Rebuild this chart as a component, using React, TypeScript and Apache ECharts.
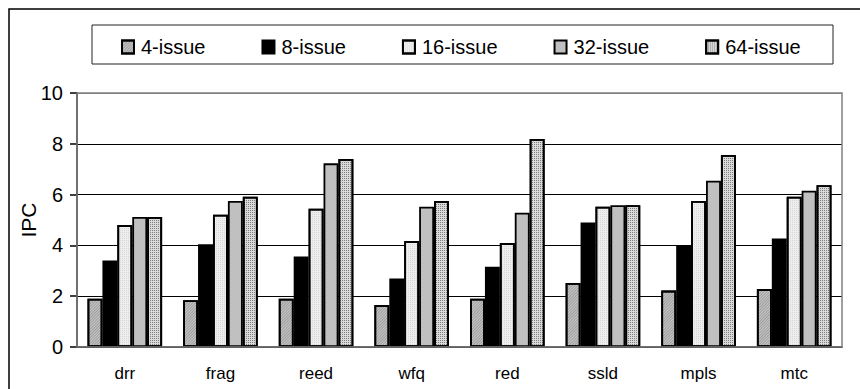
import React, { useEffect, useRef } from "react";
import * as echarts from "echarts";

const categories = ["drr", "frag", "reed", "wfq", "red", "ssld", "mpls", "mtc"];
const seriesNames = ["4-issue", "8-issue", "16-issue", "32-issue", "64-issue"];
const issue4 = [1.9, 1.84, 1.9, 1.65, 1.9, 2.52, 2.22, 2.28];
const issue8 = [3.41, 4.05, 3.56, 2.7, 3.16, 4.9, 3.98, 4.27];
const issue16 = [4.8, 5.21, 5.44, 4.17, 4.09, 5.52, 5.75, 5.92];
const issue32 = [5.12, 5.75, 7.23, 5.52, 5.29, 5.58, 6.55, 6.15];
const issue64 = [5.12, 5.92, 7.4, 5.75, 8.19, 5.58, 7.56, 6.37];
const yTicks = [0, 2, 4, 6, 8, 10];
const yAxisTitle = "IPC";

export default function App() {
  const ref = useRef<HTMLDivElement>(null);
  useEffect(() => {
    if (!ref.current) return;
    const chart = echarts.init(ref.current, null, { renderer: "svg" });
    const values = [issue4, issue8, issue16, issue32, issue64];
    const styles: any[] = [
      {
        color: "#c8c8c8",
        decal: {
          symbol: "rect",
          color: "rgba(0,0,0,0.22)",
          dashArrayX: [1, 0],
          dashArrayY: [1, 1],
          rotation: -Math.PI / 4,
        },
      },
      { color: "#000000" },
      {
        color: "#eeeeee",
        decal: {
          symbol: "rect",
          symbolSize: 1,
          color: "rgba(0,0,0,0.1)",
          dashArrayX: [1, 1],
          dashArrayY: [1, 1],
        },
      },
      { color: "#c0c0c0" },
      {
        color: "#dadada",
        decal: {
          symbol: "rect",
          symbolSize: 1,
          color: "rgba(0,0,0,0.42)",
          dashArrayX: [1, 1],
          dashArrayY: [1, 1],
        },
      },
    ];
    chart.setOption({
      animation: false,
      textStyle: { fontFamily: "'Liberation Sans', Arial, sans-serif" },
      graphic: [
        {
          type: "rect",
          z: 0,
          shape: { x: 9, y: 9, width: 900, height: 500 },
          style: { fill: "#fff", stroke: "#000", lineWidth: 1.5 },
        },
        {
          type: "rect",
          z: 1,
          shape: { x: 92, y: 25, width: 741, height: 39 },
          style: { fill: "#fff", stroke: "#222", lineWidth: 1 },
        },
        {
          type: "text",
          z: 5,
          x: 28,
          y: 220,
          rotation: Math.PI / 2,
          style: {
            text: yAxisTitle,
            fontSize: 21,
            fontFamily: "'Liberation Sans', Arial, sans-serif",
            fill: "#000",
            align: "center",
            verticalAlign: "middle",
          },
        },
      ],
      legend: {
        data: seriesNames,
        left: 116,
        top: 32,
        icon: "rect",
        itemWidth: 12,
        itemHeight: 13,
        itemGap: 56,
        textStyle: { fontSize: 20, color: "#000", padding: [0, 0, 0, 2] },
      },
      grid: {
        left: 77,
        right: 18,
        top: 93,
        bottom: 42,
        show: true,
        borderColor: "#808080",
        borderWidth: 1.5,
        z: 3,
      },
      xAxis: {
        type: "category",
        data: categories,
        axisLine: { lineStyle: { color: "#000", width: 1.5 } },
        axisTick: { length: 6, lineStyle: { color: "#000", width: 1.5 } },
        axisLabel: { fontSize: 17, color: "#000", margin: 18 },
      },
      yAxis: {
        type: "value",
        min: yTicks[0],
        max: yTicks[yTicks.length - 1],
        interval: 2,
        axisLine: { show: true, lineStyle: { color: "#000", width: 1.5 } },
        axisTick: { show: true, length: 7, lineStyle: { color: "#000", width: 1.5 } },
        axisLabel: { fontSize: 20, color: "#000", margin: 14 },
        splitLine: {
          lineStyle: {
            color: ["#000", "#000", "#000", "#000", "#000", "#808080"],
            width: 1,
          },
        },
      },
      series: seriesNames.map((name, i) => ({
        name,
        type: "bar",
        data: values[i],
        barGap: "0%",
        barCategoryGap: "22%",
        itemStyle: { ...styles[i], borderColor: "#000", borderWidth: 1.8 },
      })),
    });
    return () => chart.dispose();
  }, []);
  return (
    <div
      ref={ref}
      style={{ position: "absolute", left: 0, top: 0, width: 860, height: 389, background: "#fff" }}
    />
  );
}
